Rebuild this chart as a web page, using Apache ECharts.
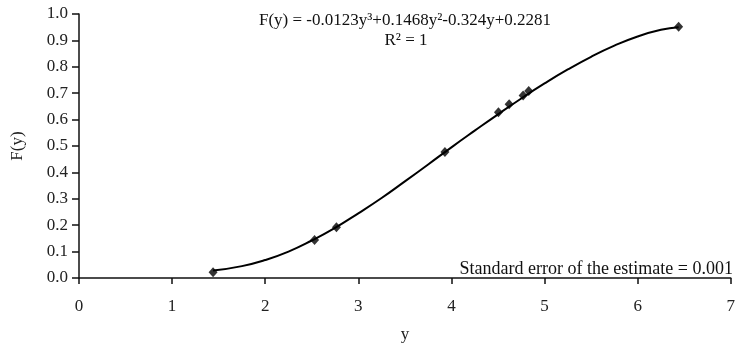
<!DOCTYPE html>
<html>
<head>
<meta charset="utf-8">
<script src="https://cdn.jsdelivr.net/npm/echarts@6/dist/echarts.min.js"></script>
<style>html,body{margin:0;padding:0;background:#fff}#c{width:738px;height:350px}</style>
</head>
<body>
<div id="c"></div>
<script>
// Observed data points (y, F(y))
const pointX = [1.44, 2.53, 2.765, 3.93, 4.505, 4.62, 4.77, 4.83, 6.44];
const pointY = [0.022, 0.144, 0.192, 0.477, 0.628, 0.658, 0.691, 0.708, 0.952];
// Fitted curve
const curveX = [1.44, 1.75, 2.0, 2.25, 2.5, 2.75, 3.0, 3.25, 3.5, 3.75, 4.0, 4.25, 4.5, 4.75, 5.0, 5.25, 5.5, 5.75, 6.0, 6.25, 6.44];
const curveY = [0.028, 0.045, 0.068, 0.100, 0.142, 0.190, 0.245, 0.303, 0.366, 0.430, 0.495, 0.558, 0.620, 0.680, 0.737, 0.790, 0.838, 0.880, 0.915, 0.940, 0.950];
const xTicks = [0, 1, 2, 3, 4, 5, 6, 7];
const yTicks = [0.0, 0.1, 0.2, 0.3, 0.4, 0.5, 0.6, 0.7, 0.8, 0.9, 1.0];
const equation = 'F(y) = -0.0123y³+0.1468y²-0.324y+0.2281';
const rSquared = 'R² = 1';
const stdErr = 'Standard error of the estimate = 0.001';

const font = '"Liberation Serif", "Times New Roman", serif';
const chart = echarts.init(document.getElementById('c'));
chart.setOption({
  animation: false,
  backgroundColor: '#fff',
  grid: { left: 79, right: 6, top: 14, bottom: 72 },
  xAxis: {
    type: 'value', min: xTicks[0], max: xTicks[xTicks.length - 1], interval: 1,
    name: 'y', nameLocation: 'middle', nameGap: 48,
    nameTextStyle: { fontFamily: font, fontSize: 17, color: '#222' },
    axisLine: { lineStyle: { color: '#111', width: 1.5 } },
    axisTick: { length: 6, lineStyle: { color: '#111', width: 1.5 } },
    axisLabel: { fontFamily: font, fontSize: 17, color: '#222', margin: 20 },
    splitLine: { show: false }
  },
  yAxis: {
    type: 'value', min: yTicks[0], max: yTicks[yTicks.length - 1], interval: 0.1,
    name: 'F(y)', nameLocation: 'middle', nameGap: 53, nameRotate: 90,
    nameTextStyle: { fontFamily: font, fontSize: 17, color: '#222' },
    axisLine: { show: true, lineStyle: { color: '#111', width: 1.5 } },
    axisTick: { show: true, length: 7, lineStyle: { color: '#111', width: 1.5 } },
    axisLabel: { fontFamily: font, fontSize: 17, color: '#222', margin: 11, formatter: v => v.toFixed(1) },
    splitLine: { show: false }
  },
  series: [
    {
      type: 'line', data: curveX.map((x, i) => [x, curveY[i]]),
      smooth: true, showSymbol: false, lineStyle: { color: '#000', width: 2 }, z: 2
    },
    {
      type: 'scatter', data: pointX.map((x, i) => [x, pointY[i]]),
      symbol: 'diamond', symbolSize: [9, 10], itemStyle: { color: '#000' }, z: 3
    }
  ],
  graphic: [
    { type: 'text', x: 405, y: 12, style: { text: equation, font: '17px ' + font, fill: '#111', align: 'center' } },
    { type: 'text', x: 406, y: 32, style: { text: rSquared, font: '17px ' + font, fill: '#111', align: 'center' } },
    { type: 'text', x: 733, y: 260, style: { text: stdErr, font: '18px ' + font, fill: '#111', align: 'right' } }
  ]
});
</script>
</body>
</html>
